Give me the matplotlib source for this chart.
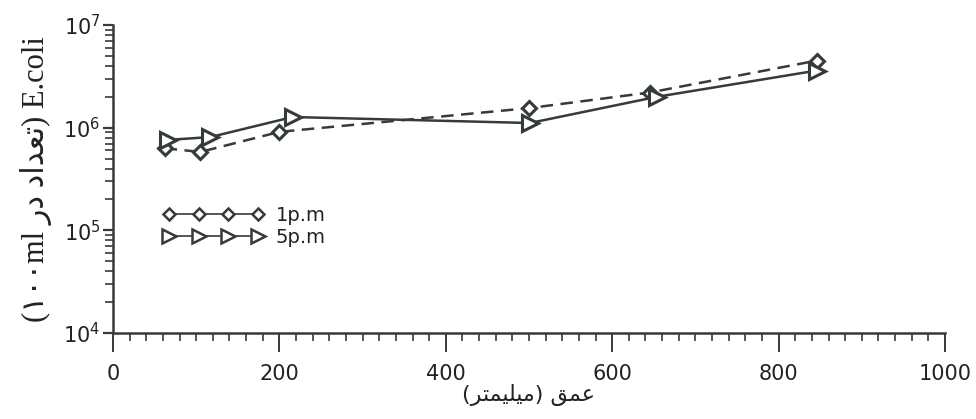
import matplotlib
matplotlib.use("Agg")
import matplotlib.pyplot as plt
from matplotlib.lines import Line2D
from matplotlib.ticker import MultipleLocator, LogLocator, NullFormatter

# ---- data ----
depth_1pm = [62, 105, 200, 500, 645, 846]
ecoli_1pm = [6.3e5, 5.8e5, 9.1e5, 1.55e6, 2.2e6, 4.5e6]
depth_5pm = [66, 117, 216, 501, 654, 846]
ecoli_5pm = [7.6e5, 8.1e5, 1.27e6, 1.11e6, 2.0e6, 3.6e6]
series_labels = ["1p.m", "5p.m"]
x_ticks = [0, 200, 400, 600, 800, 1000]

# Persian text in visual (left-to-right) order using presentation forms
xlabel_txt = "(" + "\uFEAE\uFE98\uFEE4\uFEF4\uFEE0\uFEF4\uFEE3" + ") " + "\uFED6\uFEE4\uFECB"
ylabel_txt = ("(\u0661\u0660\u0660ml " + "\uFEAD\uFEA9" + " "
              + "\uFEA9\uFE8D\uFEAA\uFECC\uFE97" + ") E.coli")

ink = "#353b37"

fig = plt.figure(figsize=(9.76, 4.19), dpi=100)
ax = fig.add_axes([113/976, 1-333/419, (945-113)/976, (333-25)/419])

ax.plot(depth_1pm, ecoli_1pm, linestyle=(0, (5, 3)), color=ink, lw=1.8,
        marker="D", markersize=7.5, markerfacecolor="white",
        markeredgecolor=ink, markeredgewidth=2.2)
ax.plot(depth_5pm, ecoli_5pm, linestyle="-", color=ink, lw=1.8,
        marker=">", markersize=11, markerfacecolor="white",
        markeredgecolor=ink, markeredgewidth=2.2)

ax.set_yscale("log")
ax.set_xlim(0, 1000)
ax.set_ylim(1e4, 1e7)
ax.set_xticks(x_ticks)
ax.xaxis.set_minor_locator(MultipleLocator(20))
ax.yaxis.set_major_locator(LogLocator(base=10, numticks=10))
ax.yaxis.set_minor_locator(LogLocator(base=10, subs=range(2, 10), numticks=20))
ax.yaxis.set_minor_formatter(NullFormatter())

for s in ["top", "right"]:
    ax.spines[s].set_visible(False)
for s in ["left", "bottom"]:
    ax.spines[s].set_linewidth(1.8)
    ax.spines[s].set_color(ink)

ax.tick_params(axis="x", which="major", direction="out", length=14, width=1.4,
               color=ink, labelsize=15, pad=8, labelcolor="#222")
ax.tick_params(axis="x", which="minor", direction="out", length=6, width=1.2, color=ink)
ax.tick_params(axis="y", which="major", direction="out", length=7, width=1.6,
               color=ink, labelsize=15, pad=2, labelcolor="#222")
ax.tick_params(axis="y", which="minor", direction="out", length=6, width=1.2, color=ink)

ax.set_xlabel(xlabel_txt, fontsize=16, family=["DejaVu Sans"], labelpad=0, color="#222")
ax.set_ylabel(ylabel_txt, fontsize=22, family=["Liberation Serif", "DejaVu Sans"],
              labelpad=8, color="#222")

handles = [
    Line2D([], [], color=ink, lw=1.2, marker="D", markersize=6.5,
           markerfacecolor="white", markeredgecolor=ink, markeredgewidth=1.8),
    Line2D([], [], color=ink, lw=1.2, marker=">", markersize=10,
           markerfacecolor="white", markeredgecolor=ink, markeredgewidth=1.8),
]
leg = fig.legend(handles, series_labels, loc="upper left",
                 bbox_to_anchor=(163/976, 1-206/419), frameon=False,
                 numpoints=4, handlelength=5.2, handletextpad=0.6,
                 labelspacing=0.15, borderpad=0, borderaxespad=0,
                 prop={"size": 14})
for t in leg.get_texts():
    t.set_color("#222")

fig.savefig("out.png", dpi=100, facecolor="white")
